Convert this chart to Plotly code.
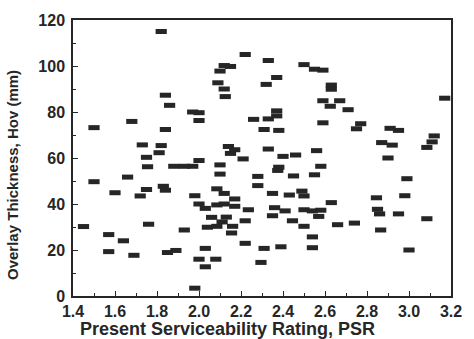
import plotly.graph_objects as go

psr = [
    1.82, 1.50, 1.68, 1.73, 1.75, 1.82, 1.81, 1.84, 1.86, 1.84,
    2.22, 2.10, 2.12, 2.15, 2.09, 2.12, 2.125, 1.97, 2.00, 2.00,
    2.26, 2.14, 2.17, 2.15, 2.21, 2.00, 2.33, 2.50, 2.55, 2.59,
    2.37, 2.32, 2.63, 2.63, 2.59, 2.67, 2.625, 2.71, 2.37, 2.37,
    2.33, 2.31, 2.38, 2.59, 2.77, 2.75, 2.91, 2.95, 2.87, 2.92,
    3.12, 3.11, 3.085, 2.90, 3.17, 2.33, 2.40, 2.46, 2.56,
    1.755, 1.50, 1.66, 1.60, 1.72, 1.75, 1.83, 1.84, 1.45, 1.76,
    1.57, 1.64, 1.57, 1.69, 1.85, 1.89, 1.88, 1.93, 1.97, 2.10,
    2.10, 2.28, 2.28, 2.085, 2.12, 1.98, 2.00, 2.03, 2.085, 2.12,
    2.17, 2.17, 2.235, 2.06, 2.13, 2.11, 2.04, 2.085, 2.16, 2.155,
    2.22, 1.93, 2.22, 2.03, 2.00, 2.08, 2.03, 1.98, 2.38, 2.375,
    2.58, 2.45, 2.55, 2.35, 2.43, 2.49, 2.50, 2.63, 2.36, 2.35,
    2.41, 2.50, 2.54, 2.58, 2.57, 2.445, 2.50, 2.66, 2.74, 2.54,
    2.54, 2.31, 2.39, 2.295, 2.99, 2.98, 2.845, 2.85, 2.86, 2.95,
    3.085, 2.865, 3.00,
]
hov = [
    115.0, 73.2, 75.9, 65.7, 60.3, 65.4, 62.3, 87.3, 82.9, 72.4,
    105.0, 97.8, 100.2, 99.8, 92.7, 90.0, 86.7, 80.0, 79.7, 76.3,
    76.8, 65.0, 63.6, 62.0, 59.6, 58.9, 102.4, 100.6, 98.6, 98.2,
    95.0, 92.0, 91.7, 89.9, 84.9, 84.9, 82.5, 81.0, 80.5, 78.3,
    77.0, 72.4, 72.0, 75.3, 74.9, 72.7, 72.9, 72.0, 66.7, 65.6,
    69.6, 67.0, 64.6, 60.0, 86.0, 63.9, 60.7, 61.3, 63.2,
    56.2, 49.7, 51.7, 44.9, 43.5, 46.3, 47.7, 46.0, 30.2, 31.2,
    26.7, 24.0, 19.3, 17.7, 18.9, 19.8, 56.4, 56.4, 56.4, 57.0,
    53.0, 52.0, 48.0, 46.6, 44.6, 43.6, 40.0, 38.1, 39.6, 40.0,
    42.2, 39.0, 37.5, 34.2, 34.3, 32.2, 29.9, 30.3, 30.3, 27.4,
    32.7, 28.7, 22.9, 20.7, 16.0, 16.0, 12.7, 3.4, 56.0, 54.6,
    56.4, 52.2, 52.7, 44.6, 43.9, 45.6, 43.5, 40.6, 38.4, 34.9,
    37.0, 37.5, 37.0, 37.3, 34.6, 32.7, 30.3, 31.0, 31.7, 25.7,
    21.0, 20.7, 21.4, 14.6, 51.0, 43.6, 42.7, 37.7, 35.7, 35.7,
    33.6, 28.7, 20.0,
]

x_ticks = [1.4, 1.6, 1.8, 2.0, 2.2, 2.4, 2.6, 2.8, 3.0, 3.2]
x_tick_labels = ["1.4", "1.6", "1.8", "2.0", "2.2", "2.4", "2.6", "2.8", "3.0", "3.2"]
y_ticks = [0, 20, 40, 60, 80, 100, 120]

x_title = "Present Serviceability Rating, PSR"
y_title = "Overlay Thickness, Hov (mm)"

ink = "#262626"
font_family = "Liberation Sans, Arial, sans-serif"

fig = go.Figure()
fig.add_trace(go.Scatter(
    x=psr, y=hov, mode="markers",
    marker=dict(symbol="line-ew", size=8, color=ink,
                line=dict(color=ink, width=5)),
    showlegend=False, cliponaxis=False,
))

axis_common = dict(
    showgrid=False, zeroline=False, showline=True, linecolor=ink, linewidth=1.5,
    mirror=True, ticks="inside", ticklen=5, tickwidth=1.2, tickcolor=ink,
    tickfont=dict(family=font_family, size=16, color=ink, weight="bold"),
)

fig.update_xaxes(range=[1.4, 3.2], tickvals=x_ticks, ticktext=x_tick_labels,
                 minor=dict(dtick=0.1, ticks="inside", ticklen=3, tickcolor=ink),
                 ticklabelstandoff=0, **axis_common)
fig.update_yaxes(range=[0, 120], tickvals=y_ticks,
                 minor=dict(dtick=10, ticks="inside", ticklen=3, tickcolor=ink),
                 ticklabelstandoff=3, **axis_common)

fig.add_annotation(text=x_title, xref="paper", yref="paper", x=0.41, y=-0.12,
                   xanchor="center", yanchor="middle", showarrow=False,
                   font=dict(family=font_family, size=18, color=ink, weight="bold"))
fig.add_annotation(text=y_title, xref="paper", yref="paper", x=-0.188, y=0.44,
                   xanchor="left", yanchor="middle", textangle=-90, showarrow=False,
                   font=dict(family=font_family, size=15, color=ink, weight="bold"))

fig.update_layout(
    width=474, height=339,
    margin=dict(l=73, r=14, t=16, b=43),
    paper_bgcolor="white", plot_bgcolor="white",
)

fig.write_html("out.html")
